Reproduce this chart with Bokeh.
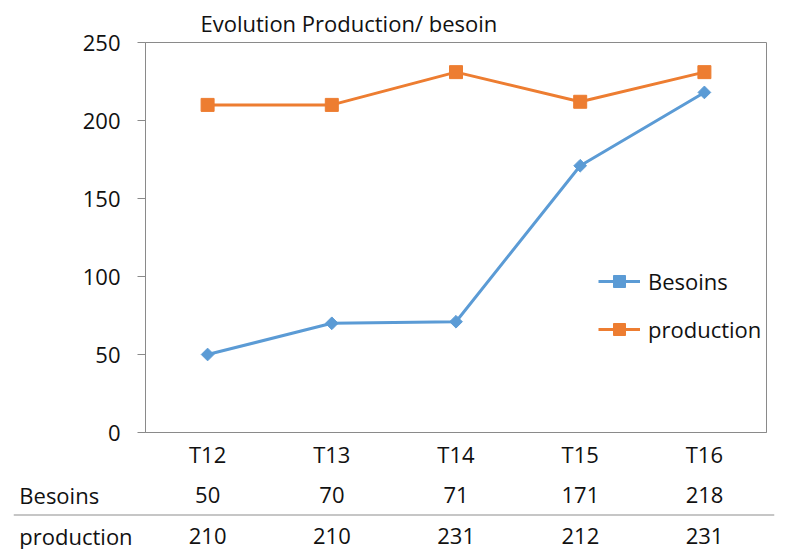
import math
from bokeh.plotting import figure
from bokeh.models import (ColumnDataSource, Range1d, FactorRange, FixedTicker,
                          Legend, LegendItem, Span)
from bokeh.core.properties import value
from bokeh.embed import file_html
from bokeh.resources import INLINE

# ---- data ----
categories = ["T12", "T13", "T14", "T15", "T16"]
besoins = [50, 70, 71, 171, 218]
production = [210, 210, 231, 212, 231]
y_ticks = [0, 50, 100, 150, 200, 250]
series_names = ["Besoins", "production"]
title_text = "Evolution Production/ besoin"
ROWCOL = "row names"   # extra column of the data table holding the row names

# ---- layout ----
W = 802
TOP_H, BOT_H = 480, 69
L, R, T, B = 145, 36, 42, 48
ROW_PITCH = 41

FONT = "Open Sans"
FS = "22px"
BLUE = "#5B9BD5"
ORANGE = "#ED7D31"
GRAY = "#8a8a8a"
TXT = "#111111"

# ================= chart =================
p = figure(x_range=FactorRange(*categories), y_range=Range1d(y_ticks[0], y_ticks[-1]),
           width=W, height=TOP_H, output_backend="svg", toolbar_location=None,
           min_border_left=L, min_border_right=R, min_border_top=T,
           min_border_bottom=B)
p.background_fill_color = "white"
p.border_fill_color = "white"
p.outline_line_color = GRAY
p.outline_line_width = 1
p.xgrid.grid_line_color = None
p.ygrid.grid_line_color = None

p.title.text = title_text
p.title.text_font = FONT
p.title.text_font_size = "22px"
p.title.text_font_style = "normal"
p.title.text_color = TXT
p.title.align = "left"
p.title.offset = 55
p.title.standoff = 9

xa = p.xaxis[0]
xa.axis_line_color = GRAY
xa.major_tick_line_color = None
xa.minor_tick_line_color = None
xa.major_tick_out = 0
xa.major_tick_in = 0
xa.major_label_text_font = FONT
xa.major_label_text_font_size = FS
xa.major_label_text_color = TXT
xa.major_label_standoff = 6

ya = p.yaxis[0]
ya.ticker = FixedTicker(ticks=y_ticks)
ya.axis_line_color = GRAY
ya.major_tick_line_color = GRAY
ya.major_tick_out = 8
ya.major_tick_in = 0
ya.minor_tick_line_color = None
ya.major_label_text_font = FONT
ya.major_label_text_font_size = FS
ya.major_label_text_color = TXT
ya.major_label_standoff = 17

src = ColumnDataSource(dict(x=categories, b=besoins, p=production))
lb = p.line("x", "b", source=src, line_color=BLUE, line_width=3)
mb = p.scatter("x", "b", source=src, marker="square", angle=math.pi / 4,
               size=9, fill_color=BLUE, line_color=BLUE)
lp = p.line("x", "p", source=src, line_color=ORANGE, line_width=3)
mp = p.scatter("x", "p", source=src, marker="square", size=13,
               fill_color=ORANGE, line_color=ORANGE)

legend = Legend(items=[LegendItem(label=series_names[0], renderers=[lb, mb]),
                       LegendItem(label=series_names[1], renderers=[lp, mp])],
                location=(453, 88), glyph_width=42, glyph_height=30,
                label_height=30, label_standoff=8, spacing=18, padding=0,
                margin=0, border_line_color=None, background_fill_alpha=0,
                label_text_font=FONT, label_text_font_size=FS,
                label_text_color=TXT)
p.add_layout(legend)

# ================= data table =================
cw = (W - L - R) / len(categories)          # width of one category column
tl = 13                                     # table starts 13px from the left
pad_x = (L - tl) / cw - 1
tr = W - round(tl + (len(categories) + 1 + 2 * pad_x) * cw)
pad_y = (BOT_H / ROW_PITCH - 2) / 2

t = figure(x_range=FactorRange(ROWCOL, *categories, range_padding=pad_x,
                               range_padding_units="absolute"),
           y_range=FactorRange(*reversed(series_names), range_padding=pad_y,
                               range_padding_units="absolute"),
           width=W, height=BOT_H, output_backend="svg", toolbar_location=None,
           x_axis_location=None, y_axis_location=None,
           min_border_left=tl, min_border_right=tr, min_border_top=0,
           min_border_bottom=0)
t.outline_line_color = None
t.background_fill_color = "white"
t.border_fill_color = "white"
t.xgrid.grid_line_color = None
t.ygrid.grid_line_color = None

for name, vals in zip(series_names, [besoins, production]):
    rs = ColumnDataSource(dict(x=categories, y=[name] * len(vals),
                               v=[str(v) for v in vals]))
    t.text("x", "y", text="v", source=rs, text_align="center",
           text_baseline="middle", text_font=value(FONT), text_font_size=FS,
           text_color=TXT)
    t.text(x=[ROWCOL], y=[name], text=[name], x_offset=-cw / 2 - 2,
           text_align="left", text_baseline="middle", text_font=value(FONT),
           text_font_size=FS, text_color=TXT)

t.add_layout(Span(location=1, dimension="width", line_color="#b3b3b3",
                  line_width=1.5))

open("out.html", "w").write(file_html([p, t], INLINE))
